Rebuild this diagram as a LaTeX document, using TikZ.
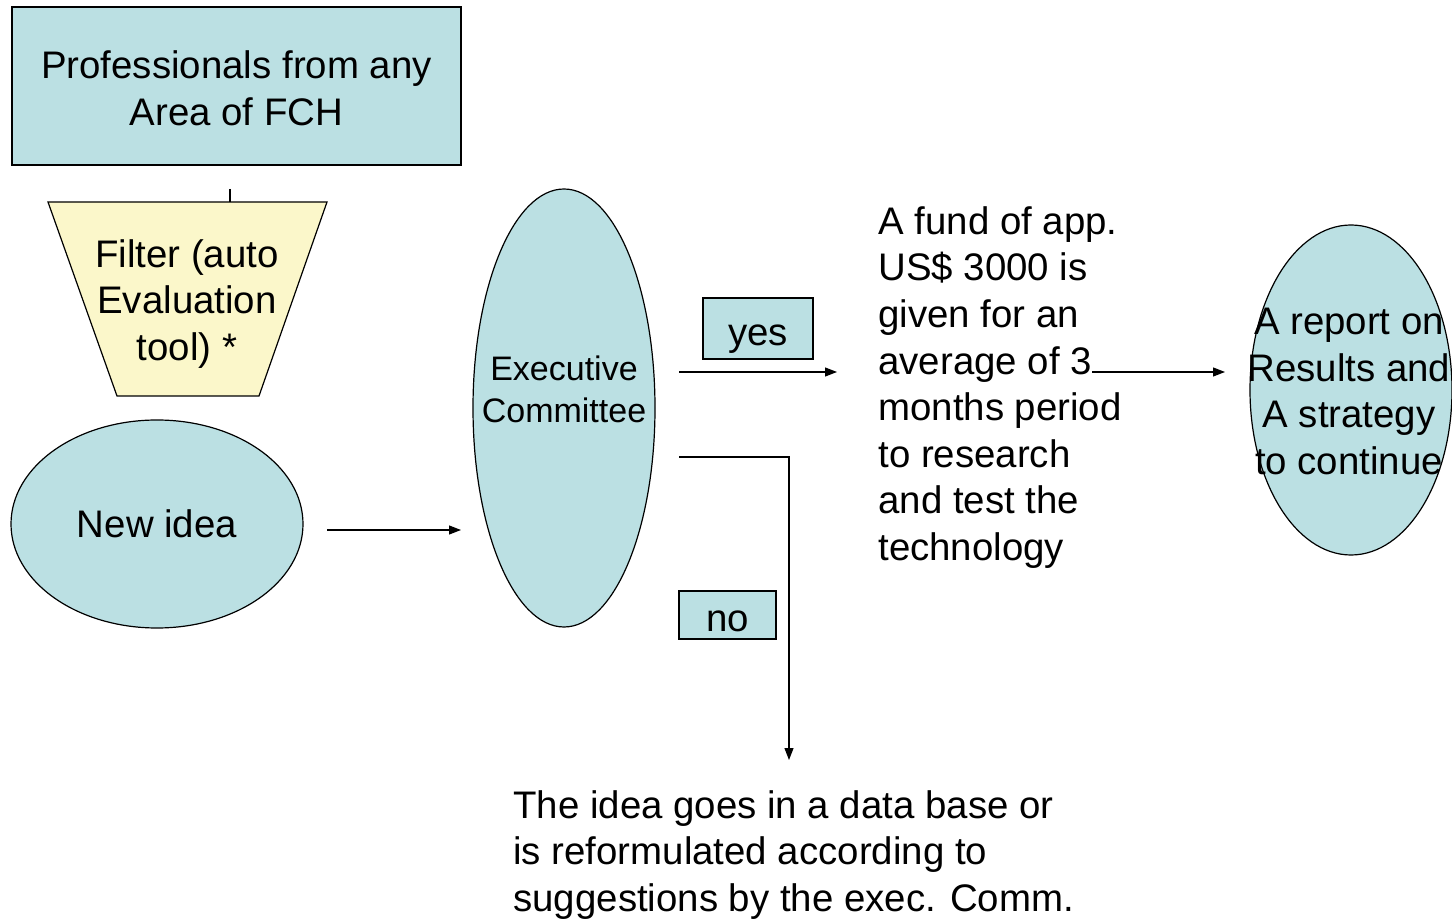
\documentclass[tikz,border=0pt]{standalone}
\usepackage{fontspec}
\setmainfont{Liberation Sans}
\usetikzlibrary{shapes.geometric,arrows.meta}
\definecolor{boxblue}{HTML}{BBE0E3}
\definecolor{filteryellow}{HTML}{FBF7CA}
\begin{document}
\begin{tikzpicture}[x=0.5pt,y=-0.5pt,
  every node/.style={font=\fontsize{19.2}{23.3}\selectfont},
  bluebox/.style={draw,fill=boxblue,line width=0.6pt,inner sep=0},
  blueell/.style={draw,fill=boxblue,ellipse,line width=0.6pt,inner sep=0},
  onelabel/.style={text height=16.6pt,text depth=0pt},
  conn/.style={line width=0.6pt},
  arr/.style={line width=0.6pt,-{Triangle[length=6pt,width=4.5pt]}}]
\useasboundingbox (0,0) rectangle (1452,919);
% top box
\node[bluebox,minimum width=224.5pt,minimum height=79pt] (prof) at (236.5,86) {};
\node[align=center] (proftext) at (236.5,88) {Professionals from any\\Area of FCH};
% filter trapezoid
\draw[fill=filteryellow,line width=0.6pt] (48,202) -- (327,202) -- (259,396) -- (117,396) -- cycle;
\node[align=center] (filter) at (187,304) {Filter (auto\\Evaluation\\tool) *};
\coordinate (ftop) at (230,202);
\coordinate (fstub) at (230,189);
\draw[conn] (fstub) -- (ftop);
% new idea
\node[blueell,minimum width=146pt,minimum height=104pt] (idea) at (157,524) {New idea};
% executive committee
\node[blueell,minimum width=91pt,minimum height=219pt] (exec) at (564,408) {};
\node[align=center,font=\fontsize{17}{21}\selectfont] (exectext) at (564,389) {Executive\hspace{5pt}\\Committee};
\coordinate (ia) at (327,530);
\coordinate (ib) at (461,530);
\draw[arr] (ia) -- (ib);
% yes
\node[bluebox,onelabel,minimum width=55pt,minimum height=30.5pt] (yes) at (758,328.5) {yes};
\coordinate (ya) at (679,372);
\coordinate (yb) at (837,372);
\draw[arr] (ya) -- (yb);
% fund text
\node[anchor=north west,inner sep=0,align=left] (fund) at (878,206) {A fund of app.\\US\$ 3000 is\\given for an\\average of 3\\months period\\to research\\and test the\\technology};
\coordinate (fa) at (1092,372);
\coordinate (fb) at (1225,372);
\draw[arr] (fa) -- (fb);
% report
\node[blueell,minimum width=101pt,minimum height=165pt] (report) at (1351,390) {};
\node[align=center] (reporttext) at (1349,391.5) {A report on\\Results and\\A strategy\\to continue};
% no
\node[bluebox,onelabel,minimum width=48.5pt,minimum height=24pt] (no) at (727.5,615) {no};
\coordinate (na) at (679,457);
\coordinate (nc) at (789,457);
\coordinate (nb) at (789,760);
\draw[arr] (na) -- (nc) -- (nb);
% bottom text
\node[anchor=north west,inner sep=0,align=left] (bottom) at (513,790) {The idea goes in a data base or\\is reformulated according to\\suggestions by the exec. Comm.};
\end{tikzpicture}
\end{document}
